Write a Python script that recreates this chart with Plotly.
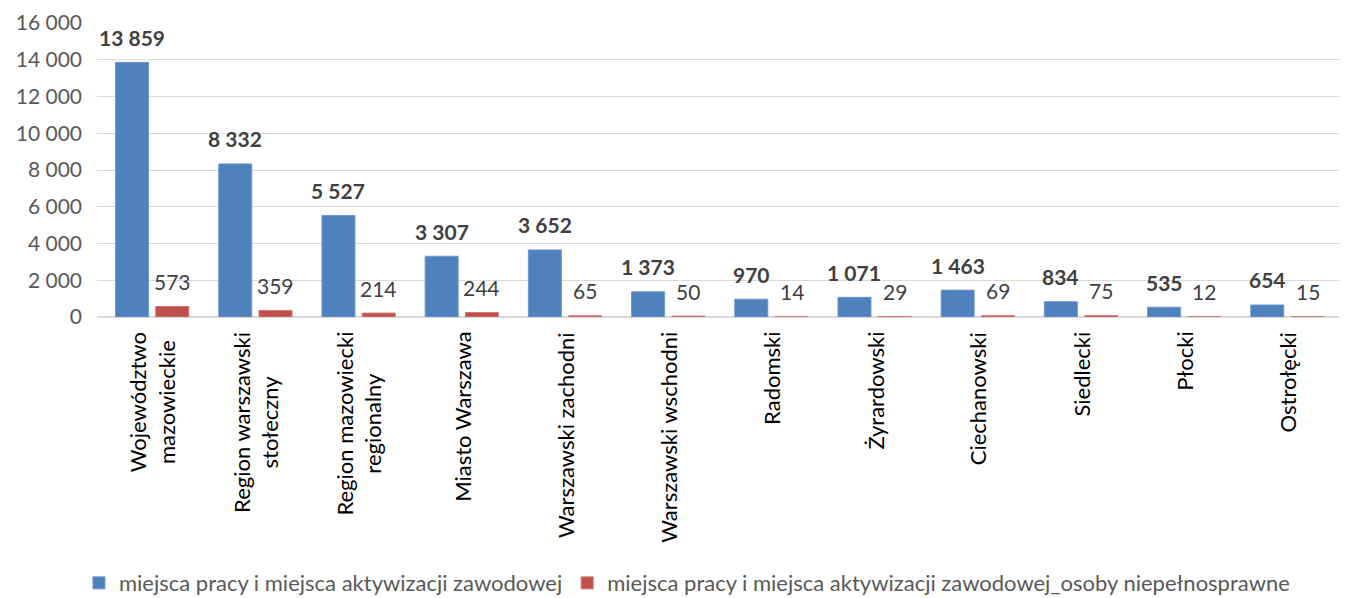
import plotly.graph_objects as go

# categories and values
regions = ['Województwo<br>mazowieckie', 'Region warszawski<br>stołeczny',
           'Region mazowiecki<br>regionalny', 'Miasto Warszawa', 'Warszawski zachodni',
           'Warszawski wschodni', 'Radomski', 'Żyrardowski', 'Ciechanowski',
           'Siedlecki', 'Płocki', 'Ostrołęcki']
jobs_all = [13859, 8332, 5527, 3307, 3652, 1373, 970, 1071, 1463, 834, 535, 654]
jobs_disabled = [573, 359, 214, 244, 65, 50, 14, 29, 69, 75, 12, 15]

name_all = 'miejsca pracy i miejsca aktywizacji zawodowej'
name_dis = 'miejsca pracy i miejsca aktywizacji zawodowej_osoby niepełnosprawne'

FONT = 'Lato, "Open Sans", sans-serif'
BLUE = '#4F81BD'
RED = '#C0504D'


def fmt(v):
    return f'{v:,}'.replace(',', ' ')


fig = go.Figure()
fig.add_trace(go.Bar(x=regions, y=jobs_all, name=name_all,
                     marker=dict(color=BLUE, line=dict(color='#6E97CB', width=1))))
fig.add_trace(go.Bar(x=regions, y=jobs_disabled, name=name_dis,
                     marker=dict(color=RED, line=dict(color='#D07774', width=1))))

# plot area: 1242 px wide, 12 categories -> slot offset of each bar
shift = 1242 / len(regions) * (1 - 0.22) / 4

annotations = []
for cat, a, d in zip(regions, jobs_all, jobs_disabled):
    annotations.append(dict(x=cat, y=a, xref='x', yref='y', text=f'<b>{fmt(a)}</b>',
                            showarrow=False, xshift=-shift, yshift=25,
                            font=dict(family=FONT, size=21, color='#404040')))
    annotations.append(dict(x=cat, y=d, xref='x', yref='y', text=fmt(d),
                            showarrow=False, xshift=shift, yshift=25,
                            font=dict(family=FONT, size=21, color='#404040')))
    # category labels, rotated and centred line by line like the original
    annotations.append(dict(x=cat, y=0, xref='x', yref='paper', text=cat,
                            showarrow=False, textangle=-90, align='center',
                            xanchor='center', yanchor='top', yshift=-13,
                            font=dict(family=FONT, size=22, color='#000000')))

# the page body has an 8px margin; the figure is shifted to compensate
fig.update_layout(
    width=1331, height=598,
    margin=dict(l=89, r=0, t=15, b=289, autoexpand=False),
    paper_bgcolor='white', plot_bgcolor='white',
    barmode='group', bargap=0.22, bargroupgap=0.18,
    separators=', ',
    font=dict(family=FONT, size=21, color='#595959'),
    showlegend=True,
    legend=dict(orientation='h', x=0.475, xanchor='center', y=-0.905, yanchor='middle',
                font=dict(family=FONT, size=22, color='#595959'),
                itemwidth=30, tracegroupgap=0),
    annotations=annotations,
)
fig.update_xaxes(showticklabels=False, showgrid=False, showline=False, ticks='',
                 automargin=False)
fig.update_yaxes(range=[0, 16000.5], tick0=0, dtick=2000, tickformat=',d', showgrid=True,
                 gridcolor='#D9D9D9', gridwidth=1, zeroline=True, zerolinecolor='#D9D9D9',
                 showline=False, ticks='', ticklabelstandoff=14, automargin=False,
                 ticklabeloverflow='allow',
                 tickfont=dict(family=FONT, size=21, color='#595959'))

fig.write_html('out.html')
